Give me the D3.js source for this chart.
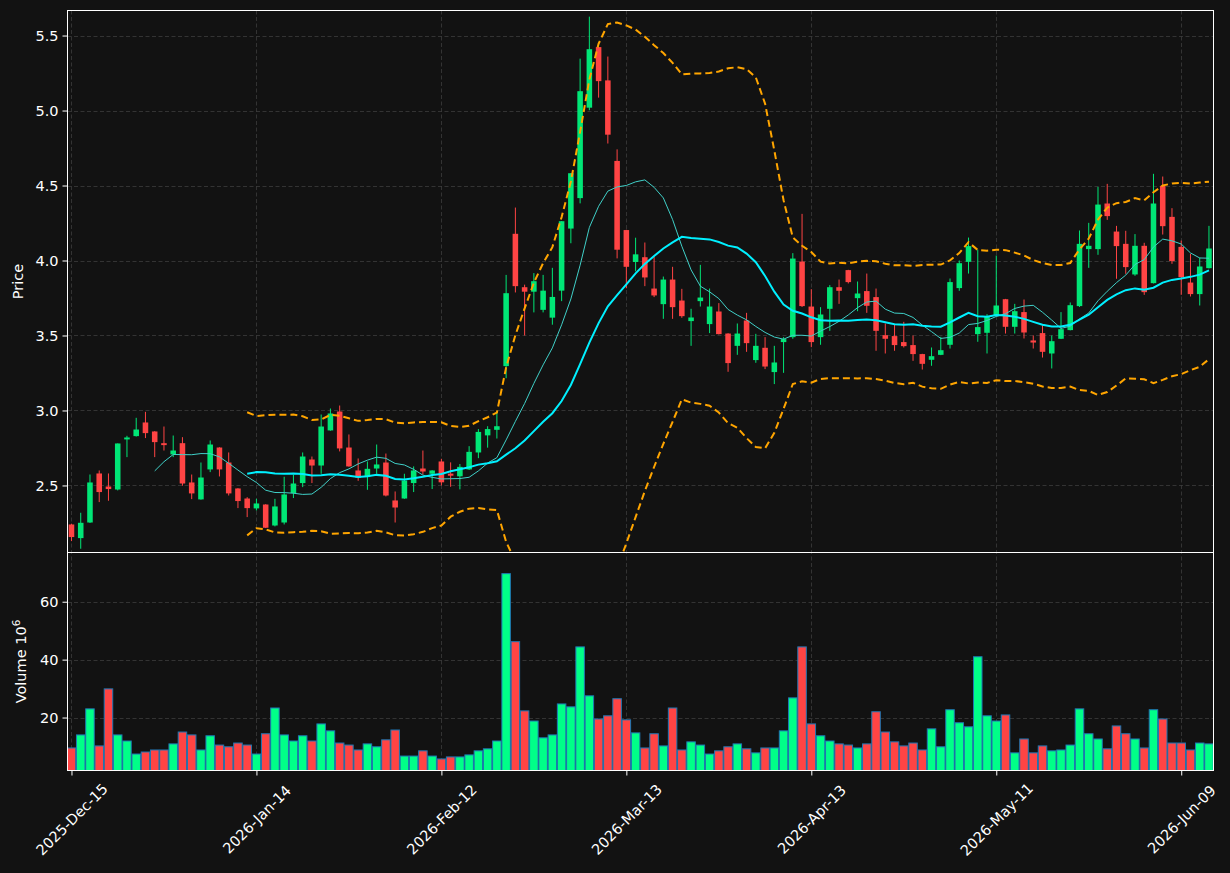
<!DOCTYPE html>
<html><head><meta charset="utf-8">
<script src="https://cdn.jsdelivr.net/npm/d3@7"></script>
<style>
body{margin:0;background:#121212;}
svg{display:block;}
text{font-family:"DejaVu Sans",sans-serif;}
</style>
</head><body>
<svg id="chart" width="1230" height="873"></svg>
<script>
// ---- data ----
const opens = [2.24,2.149,2.253,2.58,2.493,2.473,2.807,2.829,2.92,2.86,
2.782,2.707,2.782,2.52,2.407,2.607,2.753,2.653,2.48,2.413,
2.347,2.373,2.233,2.253,2.449,2.516,2.673,2.633,2.867,2.993,
2.753,2.6,2.556,2.613,2.653,2.4,2.413,2.516,2.613,2.578,
2.66,2.579,2.561,2.607,2.72,2.834,2.871,3.296,4.178,3.822,
3.792,3.671,3.619,3.799,4.213,4.416,5.019,5.423,5.201,4.664,
4.203,3.99,4.022,3.813,3.709,3.873,3.733,3.596,3.729,3.576,
3.66,3.513,3.431,3.6,3.336,3.418,3.256,3.456,3.489,3.993,
3.693,3.489,3.678,3.822,3.936,3.749,3.796,3.756,3.502,3.496,
3.456,3.436,3.376,3.338,3.371,3.438,3.816,3.991,3.509,3.518,
3.631,3.742,3.558,3.656,3.467,3.516,3.38,3.478,3.536,3.696,
4.076,4.076,4.38,4.193,4.111,3.907,4.098,3.849,4.498,4.291,
4.091,3.853,3.776,3.949];
const highs = [2.245,2.318,2.573,2.6,2.58,2.78,2.831,2.951,2.991,2.862,
2.893,2.833,2.822,2.573,2.653,2.8,2.755,2.72,2.482,2.422,
2.411,2.375,2.411,2.558,2.571,2.72,2.693,2.973,3.013,3.033,
2.84,2.68,2.66,2.773,2.713,2.46,2.578,2.627,2.733,2.602,
2.678,2.654,2.643,2.762,2.876,2.895,2.993,3.904,4.353,3.839,
3.916,3.904,3.951,4.262,4.582,5.346,5.626,5.425,5.36,4.741,
4.205,4.152,4.12,4.027,3.893,3.958,3.811,3.678,3.971,3.813,
3.716,3.515,3.58,3.651,3.511,3.489,3.431,3.489,4.049,4.311,
3.809,3.689,3.836,3.873,3.938,3.86,3.913,3.813,3.58,3.573,
3.591,3.5,3.378,3.42,3.491,3.88,4.0,4.153,4.073,3.642,
4.033,3.744,3.711,3.74,3.5,3.569,3.5,3.656,3.72,4.2,
4.251,4.491,4.511,4.231,4.198,4.176,4.118,4.578,4.56,4.349,
4.133,4.044,4.018,4.231];
const lows = [2.129,2.078,2.25,2.389,2.398,2.467,2.689,2.826,2.816,2.689,
2.733,2.689,2.498,2.409,2.405,2.589,2.56,2.433,2.349,2.289,
2.333,2.216,2.227,2.24,2.416,2.489,2.516,2.578,2.865,2.727,
2.625,2.531,2.471,2.578,2.427,2.253,2.411,2.456,2.573,2.476,
2.5,2.491,2.474,2.603,2.682,2.752,2.813,3.215,3.787,3.5,
3.654,3.654,3.572,3.729,4.115,4.381,5.002,5.086,4.78,4.014,
3.815,3.928,3.829,3.756,3.611,3.611,3.618,3.431,3.693,3.516,
3.507,3.258,3.371,3.391,3.318,3.276,3.176,3.251,3.478,3.69,
3.422,3.438,3.531,3.711,3.847,3.662,3.651,3.398,3.38,3.398,
3.42,3.331,3.273,3.298,3.369,3.413,3.798,3.913,3.458,3.38,
3.629,3.513,3.513,3.48,3.413,3.353,3.28,3.476,3.534,3.69,
3.951,4.038,4.271,3.878,3.911,3.898,3.771,3.847,4.173,3.978,
3.771,3.76,3.7,3.947];
const closes = [2.156,2.251,2.52,2.456,2.476,2.78,2.82,2.873,2.849,2.789,
2.769,2.733,2.513,2.447,2.553,2.773,2.607,2.447,2.396,2.349,
2.38,2.218,2.36,2.44,2.513,2.693,2.633,2.893,2.98,2.747,
2.627,2.551,2.611,2.64,2.433,2.353,2.533,2.6,2.593,2.6,
2.521,2.565,2.624,2.724,2.857,2.876,2.895,3.782,3.829,3.792,
3.862,3.799,3.757,4.262,4.582,5.129,5.409,5.196,4.839,4.072,
3.958,4.041,3.887,3.767,3.873,3.689,3.629,3.62,3.753,3.693,
3.509,3.316,3.513,3.449,3.431,3.293,3.32,3.476,4.013,3.696,
3.456,3.64,3.822,3.798,3.856,3.78,3.698,3.531,3.478,3.436,
3.429,3.376,3.311,3.362,3.402,3.856,3.982,4.096,3.556,3.629,
3.7,3.558,3.662,3.52,3.453,3.391,3.462,3.542,3.702,4.111,
4.098,4.373,4.296,4.096,3.956,4.098,3.789,4.38,4.229,3.996,
3.889,3.776,3.96,4.08];
const volumes = [9.5,14.0,23.0,10.2,29.9,14.0,11.9,7.4,8.1,8.8,
8.8,10.9,15.0,14.0,8.8,13.7,10.5,9.9,11.2,10.5,
7.4,14.4,23.3,14.0,11.9,13.7,11.9,17.8,15.4,11.2,
10.5,8.8,10.9,9.9,12.3,15.7,6.7,6.7,8.5,6.7,
5.7,6.4,6.4,7.1,8.5,9.2,11.9,69.7,46.2,22.3,
18.8,13.0,14.0,24.7,23.7,44.4,27.5,19.5,20.6,26.5,
19.2,14.7,9.5,14.4,10.2,23.3,8.8,11.6,10.5,7.4,
8.5,9.9,10.9,9.2,7.8,9.5,9.5,15.4,26.8,44.4,
17.8,13.7,11.9,10.9,10.5,9.5,10.9,22.0,15.0,11.6,
10.2,11.2,8.8,16.1,9.9,22.7,18.2,16.8,41.0,20.6,
18.8,20.9,7.8,12.6,7.8,10.2,8.5,8.8,10.5,23.0,
14.4,12.6,9.2,17.1,14.4,12.6,9.5,22.7,19.5,11.2,
11.2,8.8,11.2,10.9];
const tickIndex = [0,20,40,60,80,100,120];
const tickLabels = ["2025-Dec-15","2026-Jan-14","2026-Feb-12","2026-Mar-13","2026-Apr-13","2026-May-11","2026-Jun-09"];
const priceTicks = [2.5,3.0,3.5,4.0,4.5,5.0,5.5];
const volumeTicks = [20,40,60];
const maShort = 10, maLong = 20;

// ---- derived indicators ----
const n = closes.length;
function sma(w){ return closes.map((c,i)=> i<w-1 ? null : d3.mean(closes.slice(i-w+1,i+1))); }
const ma10 = sma(maShort), ma20 = sma(maLong);
const bbUp = [], bbLo = [];
closes.forEach((c,i)=>{
  if(i<maLong-1){bbUp.push(null);bbLo.push(null);return;}
  const s = closes.slice(i-maLong+1,i+1), m = d3.mean(s);
  const sd = Math.sqrt(d3.mean(s.map(v=>(v-m)*(v-m))));
  bbUp.push(m+2*sd); bbLo.push(m-2*sd);
});

// ---- layout ----
const L=67.5, R=1213.5, T=10.5, MB=552.5, VB=770.5;
const UP="#00e676", DOWN="#ff4444", VUP="#00ff88", VDOWN="#ff4444";
const svg = d3.select("#chart");
svg.append("rect").attr("width",1230).attr("height",873).attr("fill","#121212");

const x = d3.scaleLinear().domain([-0.43, n-0.51]).range([L,R]);
const yP = d3.scaleLinear().domain([2.053,5.667]).range([MB,T]);
const yV = d3.scaleLinear().domain([1.71,77]).range([VB,MB]);
const step = x(1)-x(0);

const defs = svg.append("defs");
defs.append("clipPath").attr("id","cm").append("rect").attr("x",L).attr("y",T).attr("width",R-L).attr("height",MB-T);
defs.append("clipPath").attr("id","cv").append("rect").attr("x",L).attr("y",MB).attr("width",R-L).attr("height",VB-MB);

const gridCol="#3c3c3c";
const grid = svg.append("g").attr("stroke",gridCol).attr("stroke-width",0.8).attr("stroke-dasharray","4,2.5");
tickIndex.forEach(i=>{
  const xx=Math.round(x(i))+0.5;
  grid.append("line").attr("x1",xx).attr("x2",xx).attr("y1",T).attr("y2",VB);
});
priceTicks.forEach(p=>{
  const yy=Math.round(yP(p))+0.5;
  grid.append("line").attr("x1",L).attr("x2",R).attr("y1",yy).attr("y2",yy);
});
volumeTicks.forEach(v=>{
  const yy=Math.round(yV(v))+0.5;
  grid.append("line").attr("x1",L).attr("x2",R).attr("y1",yy).attr("y2",yy);
});

// candles
const cg = svg.append("g").attr("clip-path","url(#cm)");
const idx = d3.range(n);
const bw = step*0.6;
cg.selectAll("line.wick").data(idx).join("line")
  .attr("x1",i=>x(i)).attr("x2",i=>x(i))
  .attr("y1",i=>yP(highs[i])).attr("y2",i=>yP(lows[i]))
  .attr("stroke",i=>closes[i]>=opens[i]?UP:DOWN).attr("stroke-width",1);
cg.selectAll("rect.body").data(idx).join("rect")
  .attr("x",i=>x(i)-bw/2).attr("width",bw)
  .attr("y",i=>yP(Math.max(opens[i],closes[i])))
  .attr("height",i=>Math.max(1,Math.abs(yP(opens[i])-yP(closes[i]))))
  .attr("fill",i=>closes[i]>=opens[i]?UP:DOWN);

// lines
const lg = svg.append("g").attr("clip-path","url(#cm)");
const lineOf = arr => d3.line().defined(i=>arr[i]!==null).x(i=>x(i)).y(i=>yP(arr[i]))(idx);
lg.append("path").attr("d",lineOf(ma10)).attr("fill","none").attr("stroke","#40d0c8").attr("stroke-width",1);
lg.append("path").attr("d",lineOf(ma20)).attr("fill","none").attr("stroke","#00f0ff").attr("stroke-width",2);
lg.append("path").attr("d",lineOf(bbUp)).attr("fill","none").attr("stroke","#ffa500").attr("stroke-width",2).attr("stroke-dasharray","7,4");
lg.append("path").attr("d",lineOf(bbLo)).attr("fill","none").attr("stroke","#ffa500").attr("stroke-width",2).attr("stroke-dasharray","7,4");

// volume
const vg = svg.append("g").attr("clip-path","url(#cv)");
const vw = step*0.92;
vg.selectAll("rect").data(idx).join("rect")
  .attr("x",i=>x(i)-vw/2).attr("width",vw)
  .attr("y",i=>yV(volumes[i])).attr("height",i=>yV(1.71)-yV(volumes[i]))
  .attr("fill",i=>closes[i]>=opens[i]?VUP:VDOWN)
  .attr("stroke","#1f77b4").attr("stroke-width",1);

// spines
const sp = svg.append("g").attr("stroke","#ffffff").attr("stroke-width",1).attr("fill","none");
sp.append("rect").attr("x",L).attr("y",T).attr("width",R-L).attr("height",MB-T);
sp.append("rect").attr("x",L).attr("y",MB).attr("width",R-L).attr("height",VB-MB);

// axes
const txtCol="#ffffff";
const ay = svg.append("g").attr("transform",`translate(${L},0)`)
  .call(d3.axisLeft(yP).tickValues(priceTicks).tickFormat(d3.format(".1f")).tickSize(5).tickPadding(4));
const av = svg.append("g").attr("transform",`translate(${L},0)`)
  .call(d3.axisLeft(yV).tickValues(volumeTicks).tickFormat(d3.format("d")).tickSize(5).tickPadding(4));
const ax = svg.append("g").attr("transform",`translate(0,${VB})`)
  .call(d3.axisBottom(x).tickValues(tickIndex).tickFormat((d,k)=>tickLabels[k]).tickSize(5).tickPadding(4));
[ay,av,ax].forEach(g=>{
  g.select(".domain").remove();
  g.selectAll(".tick line").attr("stroke","#ffffff");
  g.selectAll(".tick text").attr("fill",txtCol).attr("font-size",14.5).attr("font-family","DejaVu Sans");
});
ax.selectAll(".tick text")
  .attr("text-anchor","middle").attr("dy",null).attr("y",null)
  .attr("dominant-baseline","central")
  .attr("transform","translate(0,49) rotate(-45)");

// axis labels
svg.append("text").attr("transform",`translate(23,${(T+MB)/2}) rotate(-90)`)
  .attr("text-anchor","middle").attr("fill",txtCol).attr("font-size",14.5).text("Price");
const vl = svg.append("text").attr("transform",`translate(26,${(MB+VB)/2}) rotate(-90)`)
  .attr("text-anchor","middle").attr("fill",txtCol).attr("font-size",14.5);
vl.append("tspan").text("Volume  10");
vl.append("tspan").attr("dy",-6).attr("font-size",10.5).text("6");
</script>
</body></html>
